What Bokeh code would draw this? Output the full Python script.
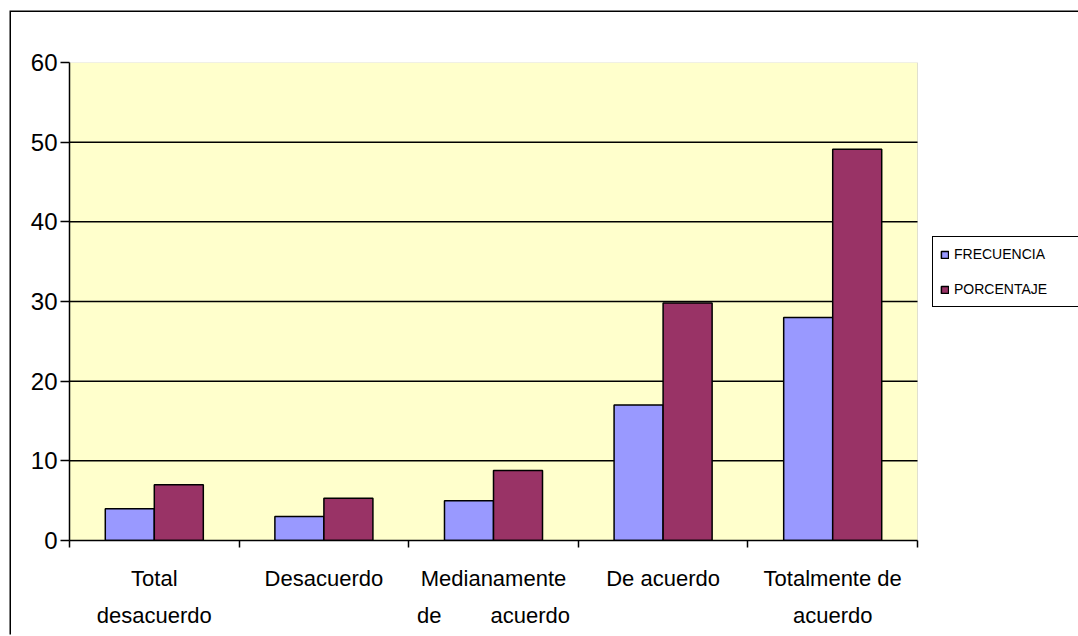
from bokeh.plotting import figure
from bokeh.models import (ColumnDataSource, FixedTicker, Range1d, Legend, LegendItem,
                          BoxAnnotation)
from bokeh.transform import dodge
from bokeh.embed import file_html
from bokeh.resources import INLINE

NB = "\u00a0"
categories = ["Total\ndesacuerdo", "Desacuerdo", "Medianamente\nde" + NB * 8 + "acuerdo",
              "De acuerdo", "Totalmente de\nacuerdo"]
frecuencia = [4, 3, 5, 17, 28]
porcentaje = [7.0, 5.3, 8.8, 29.8, 49.1]
y_ticks = [0, 10, 20, 30, 40, 50, 60]
series_names = ["FRECUENCIA", "PORCENTAJE"]
series_colors = ["#9999FF", "#993366"]

n = len(categories)
xs = list(range(n))
src = ColumnDataSource(dict(x=xs, frec=frecuencia, porc=porcentaje))
grid_y = y_ticks[1:-1]
grid_src = ColumnDataSource(dict(y=grid_y, x0=[-0.5] * len(grid_y), x1=[n - 0.5] * len(grid_y)))

MARGIN_L, MARGIN_T = 11, 12
FIG_W, FIG_H = 1078 - MARGIN_L + 4, 636 - MARGIN_T
LEFT, TOP, BOTTOM = 69 - MARGIN_L, 62 - MARGIN_T, 96
frame_w = FIG_W - LEFT          # frame runs to the right edge (legend lives inside it)
plot_w = 848                    # width of the category area in px
x_end = -0.5 + n * frame_w / plot_w

p = figure(width=FIG_W, height=FIG_H, output_backend="svg", toolbar_location=None,
           x_range=Range1d(-0.5, x_end), y_range=Range1d(0, 60),
           min_border_left=LEFT, min_border_right=0, min_border_top=TOP,
           min_border_bottom=BOTTOM, margin=(MARGIN_T, 0, 0, MARGIN_L))
p.styles = {"box-shadow": "-1.5px -1.5px 0px 0px black"}
p.background_fill_color = "white"
p.border_fill_color = "white"
p.outline_line_color = None

plot_area = BoxAnnotation(left=-0.5, right=n - 0.5, bottom=0, top=60,
                          fill_color="#FFFFCC", fill_alpha=1,
                          line_color="#999999", line_width=1, level="image")
p.add_layout(plot_area)

p.segment(x0="x0", x1="x1", y0="y", y1="y", source=grid_src,
          line_color="black", line_width=1.5, level="underlay")

bw = 0.289
r1 = p.vbar(x=dodge("x", -bw / 2, range=p.x_range), top="frec", width=bw, source=src,
            fill_color=series_colors[0], line_color="black", line_width=1.5)
r2 = p.vbar(x=dodge("x", bw / 2, range=p.x_range), top="porc", width=bw, source=src,
            fill_color=series_colors[1], line_color="black", line_width=1.5)

# y axis
p.yaxis.ticker = FixedTicker(ticks=y_ticks)
p.yaxis.major_tick_out = 9
p.yaxis.major_tick_in = 0
p.yaxis.minor_tick_out = 0
p.yaxis.minor_tick_in = 0
p.yaxis.axis_line_color = "black"
p.yaxis.axis_line_width = 1.5
p.yaxis.major_tick_line_width = 1.5
p.yaxis.major_label_standoff = 3
p.yaxis.major_label_text_font = "Liberation Sans"
p.yaxis.major_label_text_font_size = "24px"
p.yaxis.major_label_text_color = "black"

# x axis: labels at centers, ticks at boundaries
p.xaxis.ticker = FixedTicker(ticks=xs, minor_ticks=[i - 0.5 for i in range(n + 1)])
p.xaxis.bounds = (-0.5, n - 0.5)
p.xaxis.major_label_overrides = {i: c for i, c in zip(xs, categories)}
p.xaxis.major_tick_out = 0
p.xaxis.major_tick_in = 0
p.xaxis.minor_tick_out = 7
p.xaxis.minor_tick_in = 0
p.xaxis.minor_tick_line_width = 1.5
p.xaxis.minor_tick_line_color = "black"
p.xaxis.axis_line_color = "black"
p.xaxis.axis_line_width = 1.5
p.xaxis.major_label_standoff = 18
p.xaxis.major_label_text_font = "Liberation Sans"
p.xaxis.major_label_text_font_size = "22px"
p.xaxis.major_label_text_line_height = 1.5
p.xaxis.major_label_text_color = "black"

p.xgrid.visible = False
p.ygrid.visible = False

legend = Legend(items=[LegendItem(label=series_names[0], renderers=[r1]),
                       LegendItem(label=series_names[1], renderers=[r2])],
                location=(863, 233))
legend.border_line_color = "black"
legend.border_line_width = 1.5
legend.border_line_alpha = 1
legend.background_fill_color = "white"
legend.background_fill_alpha = 1
legend.glyph_width = 9
legend.glyph_height = 9
legend.label_standoff = 5
legend.label_text_font = "Liberation Sans"
legend.label_text_font_size = "14px"
legend.label_text_color = "black"
legend.label_width = 140
legend.label_height = 20
legend.spacing = 15
legend.padding = 7
legend.margin = 0
p.add_layout(legend, "center")

html = file_html(p, INLINE)
html = html.replace("<head>", "<head><style>html, body { margin: 0; overflow: hidden; }</style>", 1)
open("out.html", "w").write(html)
